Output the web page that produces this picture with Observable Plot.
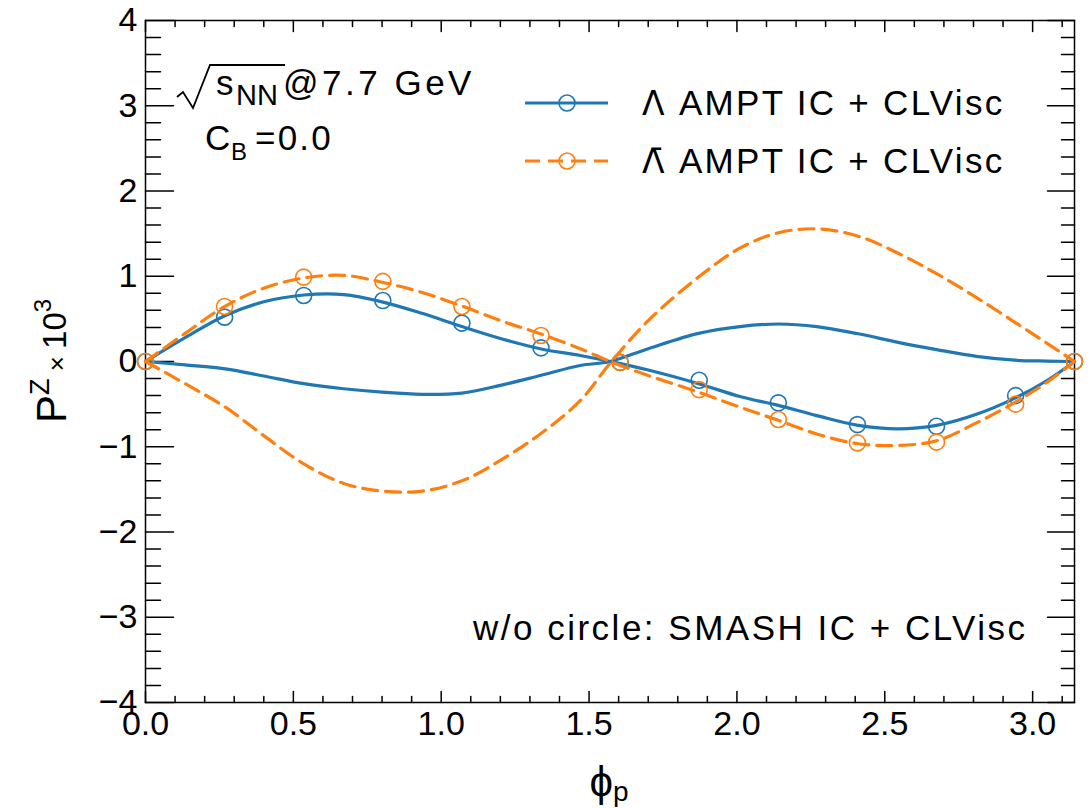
<!DOCTYPE html>
<html>
<head>
<meta charset="utf-8">
<script src="https://cdn.jsdelivr.net/npm/d3@7"></script>
<script src="https://cdn.jsdelivr.net/npm/@observablehq/plot@0.6"></script>
<style>
  html, body { margin: 0; padding: 0; background: #fff; }
  #chart svg { display: block; overflow: visible; }
</style>
</head>
<body>
<div id="chart"></div>
<script>
// ---- data ----
const phiLine = [0, 0.134, 0.27, 0.40, 0.535, 0.67, 0.80, 0.935, 1.07, 1.20, 1.335, 1.47, 1.571, 1.70, 1.87, 2.01, 2.14, 2.27, 2.41, 2.545, 2.675, 2.81, 2.94, 3.05, 3.1416];
// AMPT IC + CLVisc (lines)
const amptLambda    = [0, 0.28, 0.54, 0.70, 0.78, 0.785, 0.70, 0.565, 0.41, 0.27, 0.15, 0.07, 0.0, -0.10, -0.26, -0.41, -0.515, -0.635, -0.75, -0.79, -0.75, -0.62, -0.43, -0.22, 0];
const amptLambdaBar = [0, 0.33, 0.65, 0.86, 0.98, 1.01, 0.93, 0.81, 0.65, 0.48, 0.325, 0.15, 0.0, -0.165, -0.36, -0.535, -0.69, -0.85, -0.965, -0.985, -0.93, -0.72, -0.48, -0.24, 0];
// SMASH IC + CLVisc (lines, no circles)
const smashLambda    = [0, -0.04, -0.086, -0.17, -0.26, -0.32, -0.36, -0.385, -0.37, -0.28, -0.165, -0.047, 0.0, 0.15, 0.33, 0.41, 0.44, 0.41, 0.325, 0.225, 0.14, 0.06, 0.015, 0.005, 0];
const smashLambdaBar = [0, -0.26, -0.536, -0.87, -1.2, -1.43, -1.52, -1.52, -1.40, -1.16, -0.85, -0.46, -0.02, 0.48, 0.99, 1.33, 1.51, 1.556, 1.47, 1.27, 1.03, 0.75, 0.46, 0.21, 0];
// AMPT circles
const phiDot = [0, 0.2675, 0.535, 0.8025, 1.07, 1.3375, 1.605, 1.8725, 2.14, 2.4075, 2.675, 2.9425, 3.1416];
const amptLambdaDot    = [0, 0.52, 0.775, 0.715, 0.45, 0.16, -0.01, -0.22, -0.485, -0.74, -0.76, -0.40, 0];
const amptLambdaBarDot = [0, 0.645, 0.99, 0.94, 0.645, 0.305, -0.01, -0.33, -0.68, -0.955, -0.946, -0.50, 0];
// axis ticks
const xMajor = [0, 0.5, 1.0, 1.5, 2.0, 2.5, 3.0];
const xMinor = d3.range(0, 3.15, 0.1).filter(v => Math.abs(v * 2 - Math.round(v * 2)) > 1e-6);
const yMajor = [-4, -3, -2, -1, 0, 1, 2, 3, 4];
const yMinor = d3.range(-4, 4.001, 0.2).filter(v => Math.abs(v - Math.round(v)) > 1e-6);

const BLUE = "#1f77b4", ORANGE = "#ff7f0e";
const FONT = "'Liberation Sans', Arial, Helvetica, sans-serif";

const toRows = (xs, ys) => xs.map((x, i) => ({phi: x, v: ys[i]}));

const tickShape = {draw(ctx, l) { ctx.moveTo(0, 0); ctx.lineTo(0, -l); }};
const tk = (data, o) => Plot.vector(data, {anchor: "start", shape: tickShape, stroke: "black", strokeWidth: 1.5, ...o});

const plot = Plot.plot({
  width: 1092, height: 808,
  marginTop: 20, marginBottom: 106, marginLeft: 145, marginRight: 18,
  style: {fontFamily: FONT, fontSize: "34px", background: "white", color: "black"},
  x: {domain: [0, Math.PI]},
  y: {domain: [-4, 4]},
  marks: [
    Plot.frame({stroke: "black", strokeWidth: 1.5}),
    // inward ticks
    tk(xMajor, {x: d => d, frameAnchor: "bottom", length: 11, rotate: 0}),
    tk(xMinor, {x: d => d, frameAnchor: "bottom", length: 6, rotate: 0}),
    tk(xMajor, {x: d => d, frameAnchor: "top", length: 11, rotate: 180}),
    tk(xMinor, {x: d => d, frameAnchor: "top", length: 6, rotate: 180}),
    tk(yMajor, {y: d => d, frameAnchor: "left", length: 28, rotate: 90}),
    tk(yMinor, {y: d => d, frameAnchor: "left", length: 15, rotate: 90}),
    tk(yMajor, {y: d => d, frameAnchor: "right", length: 27, rotate: -90}),
    tk(yMinor, {y: d => d, frameAnchor: "right", length: 13, rotate: -90}),
    Plot.axisX({ticks: xMajor, tickSize: 0, tickPadding: 8, tickFormat: d3.format(".1f"), label: null, fontSize: 34}),
    Plot.axisY({ticks: yMajor, tickSize: 0, tickPadding: 8, tickFormat: d3.format("d"), label: null, fontSize: 34}),
    // curves
    Plot.line(toRows(phiLine, smashLambda), {x: "phi", y: "v", stroke: BLUE, strokeWidth: 3.2, curve: "catmull-rom"}),
    Plot.line(toRows(phiLine, amptLambda), {x: "phi", y: "v", stroke: BLUE, strokeWidth: 3.2, curve: "catmull-rom"}),
    Plot.dot(toRows(phiDot, amptLambdaDot), {x: "phi", y: "v", r: 8, stroke: BLUE, strokeWidth: 1.6, fill: "none"}),
    Plot.line(toRows(phiLine, smashLambdaBar), {x: "phi", y: "v", stroke: ORANGE, strokeWidth: 3.2, strokeDasharray: "15,8", curve: "catmull-rom"}),
    Plot.line(toRows(phiLine, amptLambdaBar), {x: "phi", y: "v", stroke: ORANGE, strokeWidth: 3.2, strokeDasharray: "15,8", curve: "catmull-rom"}),
    Plot.dot(toRows(phiDot, amptLambdaBarDot), {x: "phi", y: "v", r: 8, stroke: ORANGE, strokeWidth: 1.6, fill: "none"})
  ]
});
document.getElementById("chart").append(plot);

// ---- annotations, legend, axis titles ----
const svg = d3.select(plot);
const g = svg.append("g").attr("font-family", FONT).attr("fill", "black").attr("text-anchor", "start");

// sqrt(s_NN) @ 7.7 GeV
g.append("path").attr("d", "M177,97 L183,92 L193,108 L210,65 L285,65")
  .attr("fill", "none").attr("stroke", "black").attr("stroke-width", 1.8);
const t1 = g.append("text");
t1.append("tspan").attr("x", 216).attr("y", 95).attr("font-size", 35).text("s");
t1.append("tspan").attr("x", 236).attr("y", 105).attr("font-size", 29).text("NN");
t1.append("tspan").attr("x", 283).attr("y", 95).attr("font-size", 35).attr("letter-spacing", 3.5).text("@7.7 GeV");
// C_B = 0.0
const t2 = g.append("text");
t2.append("tspan").attr("x", 205).attr("y", 150).attr("font-size", 35).text("C");
t2.append("tspan").attr("x", 231).attr("y", 160).attr("font-size", 24).text("B");
t2.append("tspan").attr("x", 255).attr("y", 150).attr("font-size", 35).attr("letter-spacing", 2.2).text("=0.0");

// legend
const legend = [
  {sym: "Λ", label: " AMPT IC + CLVisc", color: BLUE, dash: null, y: 103},
  {sym: "Λ\u0304", label: " AMPT IC + CLVisc", color: ORANGE, dash: "15,8", y: 161}
];
legend.forEach(d => {
  g.append("line").attr("x1", 525).attr("x2", 608).attr("y1", d.y).attr("y2", d.y)
    .attr("stroke", d.color).attr("stroke-width", 3.2).attr("stroke-dasharray", d.dash);
  g.append("circle").attr("cx", 567).attr("cy", d.y).attr("r", 8)
    .attr("fill", "none").attr("stroke", d.color).attr("stroke-width", 1.6);
  const t = g.append("text").attr("x", 642).attr("y", d.y + 12).attr("font-size", 35)
    .attr("letter-spacing", 2.3);
  t.append("tspan").attr("font-family", "'DejaVu Sans', sans-serif").attr("font-size", 33).text(d.sym);
  t.append("tspan").text(d.label);
});

// note
g.append("text").attr("x", 473).attr("y", 640).attr("font-size", 35)
  .attr("letter-spacing", 2.5).text("w/o circle: SMASH IC + CLVisc");

// y title
const yt = g.append("text").attr("transform", "translate(66,361) rotate(-90)").attr("text-anchor", "middle");
yt.append("tspan").attr("font-size", 42).text("P");
yt.append("tspan").attr("font-size", 27).attr("dy", -17).text("Z");
yt.append("tspan").attr("font-size", 26).attr("dy", 17).text(" × ");
yt.append("tspan").attr("font-size", 33).text("10");
yt.append("tspan").attr("font-size", 24).attr("dy", -15).text("3");

// x title
const xt = g.append("text").attr("x", 609).attr("y", 796).attr("text-anchor", "middle");
xt.append("tspan").attr("font-size", 42).text("ϕ");
xt.append("tspan").attr("font-size", 28).attr("dy", 5).text("p");
</script>
</body>
</html>
